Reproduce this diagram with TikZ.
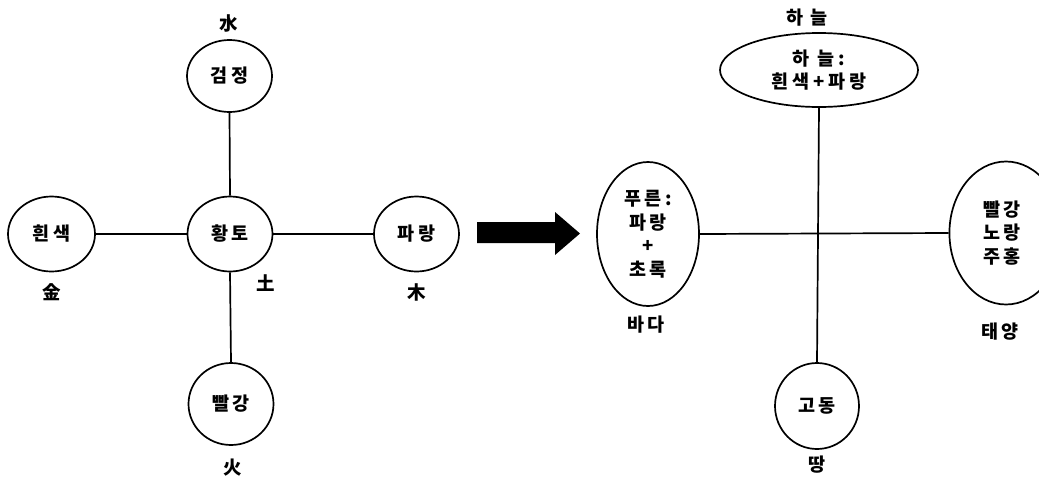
\documentclass[tikz,border=0pt]{standalone}
\usepackage{fontspec}
\newfontfamily\kr{Noto Sans CJK KR}[LetterSpace=20]
\usetikzlibrary{shapes.geometric}
\tikzset{
  elem/.style={draw, ellipse, line width=1.7pt, inner sep=0pt, align=center,
    font=\kr\bfseries\fontsize{18.5}{23.5}\selectfont},
  lbl/.style={inner sep=0pt, font=\kr\bfseries\fontsize{18.5}{20}\selectfont},
  link/.style={line width=1.7pt}
}
\begin{document}
\begin{tikzpicture}[x=1pt,y=-1pt]
\useasboundingbox (0,0) rectangle (1039,480);
\clip (0,0) rectangle (1039,480);
% left: five elements
\node[elem, minimum width=85pt, minimum height=72pt] (black) at (229.5,76) {검정};
\node[lbl] (water) at (229,23) {水};
\node[elem, minimum width=87pt, minimum height=75pt] (white) at (51.5,234) {흰색};
\node[lbl] (metal) at (52,292) {金};
\node[elem, minimum width=85pt, minimum height=75pt] (yellow) at (230,234) {황토};
\node[lbl] (soil) at (266,283) {土};
\node[elem, minimum width=85pt, minimum height=75pt] (blue) at (416.5,234) {파랑};
\node[lbl] (wood) at (417,292) {木};
\node[elem, minimum width=85pt, minimum height=82pt] (red) at (231,404) {빨강};
\node[lbl] (fire) at (233,468) {火};
\draw[link] (black.south) -- (yellow.north);
\draw[link] (yellow.south) -- (red.north);
\draw[link] (white.east) -- (yellow.west);
\draw[link] (yellow.east) -- (blue.west);
% arrow
\fill (477,222) -- (555,222) -- (555,212) -- (580,233.5) -- (555,255) -- (555,243) -- (477,243) -- cycle;
% right
\node[elem, minimum width=198pt, minimum height=74pt] (sky) at (819,70) {하 늘:\\흰색+파랑};
\node[lbl] (skylbl) at (807,18) {하 늘};
\node[elem, minimum width=102pt, minimum height=144pt] (sea) at (648,234) {푸른:\\파랑\\+\\초록};
\node[lbl] (sealbl) at (646,325) {바다};
\node[elem, minimum width=88pt, minimum height=143pt, text width=80pt] (sun) at (1006,233) {\hspace*{-8pt}빨강\\\hspace*{-8pt}노랑\\\hspace*{-8pt}주홍};
\node[lbl] (sunlbl) at (1000,332) {태양};
\node[elem, minimum width=84pt, minimum height=86pt] (earth) at (817,406) {고동};
\node[lbl] (earthlbl) at (817,465) {땅};
\draw[link] (sky.south) -- (earth.north);
\draw[link] (sea.east) -- (sun.west);
\end{tikzpicture}
\end{document}
